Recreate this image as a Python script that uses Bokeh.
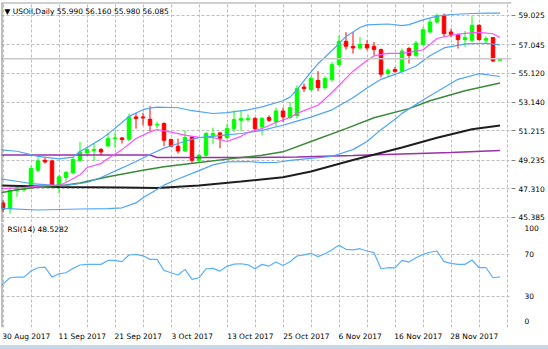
import numpy as np
from bokeh.plotting import figure
from bokeh.layouts import column
from bokeh.models import (ColumnDataSource, FixedTicker, NumeralTickFormatter,
                          Span, Label, Range1d, CustomJSTickFormatter, Div)
from bokeh.embed import file_html
from bokeh.resources import INLINE

# ---------------- data ----------------
date_labels = ["30 Aug 2017", "11 Sep 2017", "21 Sep 2017", "3 Oct 2017", "13 Oct 2017",
               "25 Oct 2017", "6 Nov 2017", "16 Nov 2017", "28 Nov 2017"]
date_bars = [0, 8, 16, 24, 32, 40, 48, 56, 64]

opens = [46.35, 45.97, 47.16, 47.23, 47.39, 48.56, 49.23, 49.19, 47.55, 48.07,
         48.38, 49.23, 49.73, 49.89, 49.96, 50.20, 50.70, 50.74, 50.65, 52.16,
         52.16, 52.00, 51.62, 51.71, 50.63, 50.18, 49.86, 50.81, 49.23, 49.57,
         50.92, 51.08, 50.77, 51.37, 51.93, 51.98, 52.05, 51.48, 52.12, 51.82,
         52.56, 52.12, 52.25, 54.18, 54.01, 54.63, 54.14, 54.68, 55.70, 57.27,
         56.93, 56.82, 57.05, 56.93, 56.71, 55.09, 55.36, 55.24, 56.78, 56.32,
         57.05, 57.90, 58.57, 59.02, 57.90, 57.74, 57.38, 57.34, 58.35, 57.34,
         57.52, 55.990]
highs = [46.53, 47.39, 47.48, 47.55, 48.83, 49.42, 49.42, 49.28, 48.22, 48.51,
         49.42, 50.47, 50.13, 50.36, 50.06, 51.10, 51.12, 50.81, 52.39, 52.43,
         52.43, 52.88, 51.85, 51.80, 50.70, 50.70, 51.26, 50.85, 49.69, 51.14,
         51.44, 51.14, 51.71, 52.61, 52.61, 52.34, 52.16, 52.16, 52.27, 52.79,
         52.79, 53.17, 54.30, 54.41, 54.91, 55.26, 54.91, 55.87, 57.67, 57.89,
         57.89, 57.56, 57.34, 57.22, 56.78, 55.43, 55.54, 56.78, 56.89, 57.30,
         58.24, 58.80, 59.14, 59.14, 58.13, 57.79, 57.97, 58.96, 58.42, 57.60,
         57.56, 56.160]
lows = [45.72, 45.63, 46.76, 47.09, 47.32, 48.44, 49.01, 47.48, 46.98, 47.77,
        48.29, 49.12, 49.57, 49.19, 49.57, 50.13, 50.09, 50.36, 50.52, 51.37,
        51.60, 51.21, 51.40, 50.18, 50.11, 49.69, 49.79, 49.05, 49.05, 49.46,
        50.31, 50.04, 50.63, 51.14, 51.21, 51.82, 51.14, 50.92, 51.82, 51.53,
        51.82, 52.00, 52.05, 53.85, 53.91, 53.91, 54.01, 54.52, 55.65, 56.71,
        56.44, 56.71, 56.66, 56.32, 54.82, 54.86, 55.14, 55.19, 55.77, 56.21,
        57.00, 57.79, 58.46, 57.56, 57.56, 56.78, 56.89, 57.22, 57.34, 57.11,
        55.87, 55.980]
closes = [45.93, 47.21, 47.36, 47.36, 48.67, 49.19, 49.12, 47.55, 48.11, 48.40,
          49.30, 49.79, 49.96, 49.96, 49.79, 50.70, 50.74, 50.63, 52.16, 52.05,
          52.09, 51.60, 51.66, 50.58, 50.18, 49.86, 50.77, 49.23, 49.57, 51.04,
          51.04, 50.72, 51.37, 51.98, 52.05, 52.05, 51.37, 52.05, 51.93, 52.56,
          52.16, 52.79, 54.07, 54.07, 54.75, 54.14, 54.75, 55.69, 57.27, 56.93,
          56.82, 57.05, 56.82, 56.71, 55.04, 55.31, 55.24, 56.61, 56.32, 57.15,
          58.06, 58.57, 59.02, 57.79, 57.74, 57.38, 57.52, 58.35, 57.38, 57.45,
          55.94, 56.085]

# indicator lines (bar index, value)
bb_up_x = [-1, 2, 5, 8, 10, 11, 12, 14, 15, 17, 18, 20, 21, 22, 25, 27, 30, 32, 35, 37,
           40, 41, 42, 44, 45, 47, 49, 51, 52, 55, 57, 58, 60, 62, 64, 67, 69, 71]
bb_up_y = [49.97, 49.84, 49.50, 49.33, 49.45, 49.82, 50.10, 50.66, 51.00, 51.78, 52.20, 52.65,
           52.76, 52.82, 52.78, 52.58, 52.39, 52.45, 52.64, 52.84, 53.25, 53.50, 54.00, 55.20,
           55.75, 56.65, 57.60, 58.20, 58.38, 58.44, 58.33, 58.40, 58.72, 58.97, 59.08, 59.15,
           59.18, 59.17]
bb_mid_x = [-1, 4, 7, 9, 12, 14, 16, 19, 21, 23, 26, 28, 31, 34, 37, 40, 42, 44, 47, 50,
            52, 54, 57, 59, 61, 63, 65, 66, 69, 71]
bb_mid_y = [48.02, 47.66, 47.55, 47.53, 47.73, 48.07, 48.50, 49.15, 49.62, 50.05, 50.52, 50.76,
            50.90, 51.04, 51.25, 51.60, 51.88, 52.15, 52.64, 53.45, 54.12, 54.70, 55.20, 55.60,
            56.30, 56.82, 57.00, 57.10, 57.14, 57.03]
bb_low_x = [-1, 5, 11, 15, 17, 19, 20, 22, 23, 25, 28, 30, 32, 35, 37, 39, 41, 44, 47, 50,
            52, 54, 56, 57, 60, 63, 65, 68, 71]
bb_low_y = [45.99, 45.87, 45.94, 45.97, 46.02, 46.35, 46.70, 47.25, 47.55, 47.97, 48.53, 48.92,
            49.12, 49.15, 49.07, 49.08, 49.22, 49.36, 49.50, 49.95, 50.50, 51.30, 52.00, 52.40,
            53.30, 54.15, 54.70, 55.08, 54.89]
ma_fast_x = [-1, 3, 6, 8, 9, 11, 12, 14, 15, 17, 19, 21, 22, 24, 26, 28, 30, 32, 34, 35,
             37, 39, 41, 42, 45, 47, 50, 52, 53, 55, 57, 58, 60, 61, 62, 64, 66, 68, 70, 71]
ma_fast_y = [47.30, 47.39, 47.53, 47.53, 47.73, 48.25, 48.74, 49.01, 49.35, 49.95, 50.70, 51.15,
             51.31, 51.13, 50.93, 50.78, 50.77, 50.50, 50.85, 51.11, 51.38, 51.78, 52.12, 52.40,
             52.95, 53.81, 55.25, 55.97, 56.28, 56.45, 56.45, 56.52, 56.70, 57.06, 57.46, 57.68,
             57.80, 57.87, 57.78, 57.53]
ma50_x = [-1, 2, 6, 9, 11, 15, 20, 23, 28, 33, 37, 40, 44, 49, 53, 58, 61, 66, 71]
ma50_y = [46.97, 47.24, 47.47, 47.56, 47.70, 48.12, 48.56, 48.80, 49.08, 49.36, 49.57, 49.80,
          50.50, 51.37, 52.10, 52.72, 53.25, 53.93, 54.45]
ma100_x = [-1, 8, 17, 22, 28, 34, 40, 44, 50, 57, 62, 67, 71]
ma100_y = [47.53, 47.43, 47.39, 47.36, 47.53, 47.80, 48.08, 48.47, 49.25, 50.10, 50.75, 51.33,
           51.58]
ma200_x = [-1, 21, 22, 35, 42, 50, 57, 64, 71]
ma200_y = [49.59, 49.59, 49.42, 49.42, 49.45, 49.55, 49.66, 49.76, 49.89]

rsi_x = list(range(-1, 72))
rsi_y = [36.5, 41.5, 47.6, 48.2, 48.2, 54.0, 57.2, 57.8, 48.2, 51.4, 52.4, 56.6, 59.8, 60.4,
         60.4, 60.4, 64.2, 64.2, 63.0, 69.4, 70.0, 68.6, 65.2, 65.2, 54.6, 52.4, 50.2, 55.6,
         46.0, 47.6, 56.2, 56.6, 54.0, 58.5, 60.6, 61.0, 60.0, 56.2, 60.4, 58.8, 62.6, 59.4,
         62.9, 68.4, 69.5, 71.0, 67.8, 70.6, 74.5, 78.6, 74.8, 74.2, 75.4, 73.2, 71.6, 56.2,
         57.2, 57.0, 64.2, 62.6, 66.8, 70.0, 72.0, 73.2, 63.0, 61.4, 60.4, 60.4, 64.6, 57.2,
         57.2, 47.6, 48.5282]

price_ticks = [45.385, 47.310, 49.235, 51.215, 53.140, 55.120, 57.045, 59.025]
rsi_levels = [30, 70]

# ---------------- geometry / style ----------------
W, H1, H2, H3 = 548, 222, 123, 4
BAR_PX, BAR0_PX = 7.0, 2.5
FRAME_L, FRAME_R = 1, 511
PX_PER_PRICE, REF_PRICE, REF_PY = 14.8, 45.385, 216.7
FONT = "DejaVu Sans"
FS = "7.5px"
CHAR_PX = 4.25          # approx. width of one label character
GRID_COLOR = "#BDBDBD"
BULL, BEAR = "#00FF00", "#FF0000"


def px_to_x(px):
    return (px - BAR0_PX) / BAR_PX


def py_to_price(py):
    return REF_PRICE + (REF_PY - py) / PX_PER_PRICE


def py_to_rsi(py):
    return (327.5 - py) / 1.05


x_start, x_end = px_to_x(FRAME_L), px_to_x(FRAME_R)

p1 = figure(width=W, height=H1, output_backend="svg", toolbar_location=None,
            x_range=Range1d(x_start, x_end), y_range=Range1d(py_to_price(222), py_to_price(2)),
            x_axis_location=None, y_axis_location="right",
            min_border_left=1, min_border_right=W - FRAME_R, min_border_top=2, min_border_bottom=0)
p1.outline_line_color = None
p1.background_fill_color = "white"
p1.border_fill_color = "white"

ax = p1.yaxis[0]
ax.ticker = FixedTicker(ticks=price_ticks)
ax.formatter = NumeralTickFormatter(format="0.000")
ax.axis_line_color = None
ax.major_tick_out = 4
ax.major_tick_in = 0
ax.major_tick_line_color = "#808080"
ax.minor_tick_line_color = None
ax.major_label_standoff = 3
ax.major_label_text_font = FONT
ax.major_label_text_font_size = FS
ax.major_label_text_color = "black"

vticks = list(range(0, 73, 4))
p1.xgrid.ticker = FixedTicker(ticks=vticks)
for g in (p1.xgrid[0], p1.ygrid[0]):
    g.grid_line_color = GRID_COLOR
    g.grid_line_dash = "3 2"
    g.grid_line_width = 1

# candles
o = np.array(opens); c = np.array(closes)
idx = np.arange(len(opens))
colors = [BULL if cc >= oo else BEAR for oo, cc in zip(opens, closes)]
src = ColumnDataSource(dict(x=idx, top=np.maximum(o, c), bottom=np.minimum(o, c),
                            high=highs, low=lows, color=colors))

# bid line
p1.add_layout(Span(location=closes[-1], dimension="width", line_color="#C8C8C8", line_width=1.5))

p1.segment(x0="x", y0="low", x1="x", y1="high", color="color", line_width=1, source=src)
p1.vbar(x="x", width=0.5, top="top", bottom="bottom", fill_color="color", line_color="color",
        line_width=1, source=src)

BB_COLOR = "#4FA3F7"
p1.line(ma200_x, ma200_y, line_color="#9B30A8", line_width=1.5)
p1.line(ma100_x, ma100_y, line_color="#1E1E1E", line_width=2)
p1.line(ma50_x, ma50_y, line_color="#3A8A3A", line_width=1.5)
p1.line(bb_up_x, bb_up_y, line_color=BB_COLOR, line_width=1.2)
p1.line(bb_mid_x, bb_mid_y, line_color=BB_COLOR, line_width=1.2)
p1.line(bb_low_x, bb_low_y, line_color=BB_COLOR, line_width=1.2)
p1.line(ma_fast_x, ma_fast_y, line_color="#FF4FFF", line_width=1.2)

p1.add_layout(Span(location=x_start, dimension="height", line_color="#808080", line_width=2))
p1.add_layout(Span(location=py_to_price(2), dimension="width", line_color="#A0A0A0", line_width=2))

title = "\u25BC  USOil,Daily  {:.3f} {:.3f} {:.3f} {:.3f}".format(opens[-1], highs[-1], lows[-1], closes[-1])
p1.add_layout(Label(x=px_to_x(4), y=py_to_price(10.5), text=title, text_font=FONT,
                    text_font_size=FS, text_color="black", text_baseline="middle"))
p1.add_layout(Label(x=px_to_x(517.5), y=closes[-1], text="{:.3f}".format(closes[-1]),
                    text_font=FONT, text_font_size=FS, text_color="white",
                    background_fill_color="black", text_baseline="middle", text_align="left"))

# ---------------- RSI panel ----------------
p2 = figure(width=W, height=H2, output_backend="svg", toolbar_location=None,
            x_range=p1.x_range, y_range=Range1d(py_to_rsi(327.5), py_to_rsi(222)),
            x_axis_location="below", y_axis_location="right",
            min_border_left=1, min_border_right=W - FRAME_R, min_border_top=0,
            min_border_bottom=H1 + H2 - 327)
p2.outline_line_color = None
ax2 = p2.yaxis[0]
ax2.ticker = FixedTicker(ticks=[6, 30, 70, 95])
ax2.major_label_overrides = {6: "0", 30: "30", 70: "70", 95: "100"}
ax2.axis_line_color = None
ax2.major_tick_line_color = None
ax2.minor_tick_line_color = None
ax2.major_label_standoff = 7
ax2.major_label_text_font = FONT
ax2.major_label_text_font_size = FS
ax2.major_label_text_color = "black"

# date axis: labels start at their bar, so the tick sits at the label's centre
label_ticks = [b + len(t) * CHAR_PX / 2 / BAR_PX for b, t in zip(date_bars, date_labels)]
xa = p2.xaxis[0]
xa.ticker = FixedTicker(ticks=label_ticks)
xa.formatter = CustomJSTickFormatter(args=dict(labels=date_labels),
                                     code="return (index < labels.length) ? labels[index] : '';")
xa.axis_line_color = None
xa.major_tick_line_color = None
xa.minor_tick_line_color = None
xa.major_tick_out = 0
xa.major_tick_in = 0
xa.major_label_standoff = 4
xa.major_label_text_font = FONT
xa.major_label_text_font_size = FS
xa.major_label_text_color = "black"

p2.xgrid.ticker = FixedTicker(ticks=vticks)
p2.ygrid.ticker = FixedTicker(ticks=[0] + rsi_levels)
for g in (p2.xgrid[0], p2.ygrid[0]):
    g.grid_line_color = GRID_COLOR
    g.grid_line_dash = "3 2"
    g.grid_line_width = 1

p2.line(rsi_x, rsi_y, line_color="#5AAFFF", line_width=1.2)
p2.add_layout(Span(location=x_start, dimension="height", line_color="#808080", line_width=2))
p2.add_layout(Label(x=px_to_x(7), y=py_to_rsi(229), text="RSI(14) {:.4f}".format(rsi_y[-1]),
                    text_font=FONT, text_font_size=FS, text_color="black", text_baseline="middle"))

strip = Div(text="", width=W, height=H3, margin=0,
            styles={"background-color": "#C9D8E8"})

layout = column(p1, p2, strip, spacing=0)
open("out.html", "w").write(file_html(layout, INLINE))
